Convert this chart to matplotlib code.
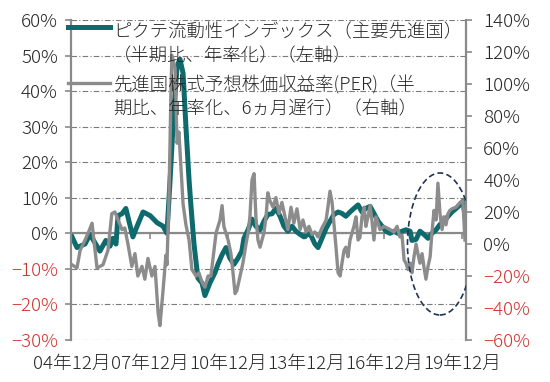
import matplotlib
matplotlib.use('Agg')
import matplotlib.pyplot as plt
import numpy as np
from matplotlib.lines import Line2D
from matplotlib.patches import Ellipse

plt.rcParams['font.family'] = ['Noto Sans CJK JP', 'DejaVu Sans']
plt.rcParams['font.weight'] = 'light'

# liquidity index (left axis, %), x as decimal years
liq_t = [2004.92, 2005.11, 2005.42, 2005.61, 2005.99, 2006.22, 2006.38, 2006.49, 2006.61, 2006.69,
         2006.84, 2006.99, 2007.11, 2007.26, 2007.42, 2007.65, 2007.92, 2008.19, 2008.42, 2008.57,
         2008.69, 2008.84, 2008.96, 2009.07, 2009.19, 2009.30, 2009.42, 2009.49, 2009.61, 2009.76,
         2009.92, 2010.03, 2010.22, 2010.42, 2010.53, 2010.69, 2010.84, 2010.99, 2011.15, 2011.30,
         2011.45, 2011.53, 2011.69, 2011.84, 2011.99, 2012.15, 2012.30, 2012.45, 2012.61, 2012.76,
         2012.92, 2013.07, 2013.22, 2013.38, 2013.53, 2013.69, 2013.84, 2014.07, 2014.26, 2014.38,
         2014.53, 2014.69, 2014.84, 2014.99, 2015.15, 2015.30, 2015.45, 2015.61, 2015.76, 2015.92,
         2016.07, 2016.22, 2016.38, 2016.53, 2016.69, 2016.84, 2016.99, 2017.15, 2017.30, 2017.45,
         2017.61, 2017.76, 2017.92, 2017.99, 2018.15, 2018.30, 2018.45, 2018.61, 2018.76, 2018.92,
         2019.07, 2019.22, 2019.38, 2019.53, 2019.69, 2019.84, 2019.95, 2020.03]
liq_v = [-1, -4, -3, -0.3, -5, -2, -3.6, -1.4, -3, 5,
         5.5, 7, 3.4, -1, 2, 6, 5, 3, 2, 0,
         15, 35, 47, 49, 45, 30, 15, 8, -3, -12.6,
         -14, -17.5, -14, -11, -8.7, -6, -4, -7, -8.7, -7,
         -5, -1.4, 1, 4, 2, 1, 3.4, 5.3, 5.5, 7,
         4.8, 2, 0.6, 2, 0.6, -0.3, -1, 0, -3, -4,
         -1.4, 1.4, 3.4, 5.3, 6, 5.6, 4.8, 6, 7, 8,
         6, 7, 7.6, 5.6, 3.4, 2, 0.6, 0, 0.6, 0,
         0.6, 1, 0.6, -2, -1.7, 0.6, -0.3, -1.4, 0, 1,
         2.5, 3.4, 4.8, 6, 7, 8, 9, 5.3]

# forward PER of developed equities (right axis, %), 6m lag
per_t = [2004.92, 2005.11, 2005.23, 2005.42, 2005.57, 2005.69, 2005.88, 2006.11, 2006.30, 2006.45,
         2006.57, 2006.69, 2006.84, 2006.95, 2007.07, 2007.22, 2007.34, 2007.45, 2007.61, 2007.72,
         2007.84, 2007.99, 2008.11, 2008.23, 2008.30, 2008.42, 2008.53, 2008.57, 2008.65, 2008.73,
         2008.76, 2008.88, 2008.96, 2009.03, 2009.19, 2009.30, 2009.42, 2009.53, 2009.69, 2009.80,
         2009.92, 2010.03, 2010.15, 2010.26, 2010.38, 2010.46, 2010.61, 2010.69, 2010.76, 2010.92,
         2011.03, 2011.11, 2011.19, 2011.26, 2011.38, 2011.49, 2011.61, 2011.69, 2011.76, 2011.84,
         2011.92, 2011.99, 2012.07, 2012.15, 2012.30, 2012.38, 2012.45, 2012.53, 2012.65, 2012.76,
         2012.88, 2012.99, 2013.11, 2013.22, 2013.34, 2013.45, 2013.57, 2013.69, 2013.80, 2013.92,
         2014.03, 2014.15, 2014.26, 2014.38, 2014.53, 2014.69, 2014.76, 2014.84, 2014.92, 2014.99,
         2015.07, 2015.15, 2015.23, 2015.30, 2015.38, 2015.45, 2015.53, 2015.61, 2015.76, 2015.84,
         2015.92, 2015.99, 2016.07, 2016.15, 2016.22, 2016.30, 2016.38, 2016.45, 2016.53, 2016.61,
         2016.69, 2016.76, 2016.92, 2017.15, 2017.30, 2017.42, 2017.53, 2017.61, 2017.69, 2017.76,
         2017.84, 2017.92, 2017.99, 2018.07, 2018.15, 2018.22, 2018.30, 2018.38, 2018.45, 2018.53,
         2018.61, 2018.69, 2018.76, 2018.84, 2018.92, 2018.99, 2019.07, 2019.15, 2019.22, 2019.30,
         2019.38, 2019.45, 2019.53, 2019.69, 2019.84, 2019.95, 2020.03]
per_v = [-13, -15, -4, 2.5, 8, 13, -15, -13, -4, 19,
         20, 15, 9, 10, 0, -14, -6, -20, -14, -22,
         -9, -20, -14, -43, -51, -29, -7, -13, 30, 100,
         118, 110, 63, 70, 25, 12, 2.5, -16, -20, -18,
         -24, -27, -20, -20, -4, 7, 15, 24, 11, 2.5,
         -6, -18, -31, -29, -20, -12, 0, 7, 17, 40,
         44, 17, 2.5, -2, 7, 17, 32, 27, 23, 29,
         19, 26, 17, 9, 23, 13, 22, 9, 15, 7.5,
         11, 6, 7.5, 4.4, 10, 15, 23, 33, 26, 13,
         -2, -18, -20, -12, -4, -2, -8, 2.5, 11, 17,
         2.5, 4, 17, 23, 11, 17, 24, 15, 2.5, 17,
         13, 9, 11, 9, 7.5, 11, 4.4, 5.5, -10, -12,
         -16, -12, -18, -8, 0, -6, -12, -6, -14, -22,
         -14, -8, 7, 21, 15, 38, 19, 9, 17, 12,
         19, 21, 22, 23, 26, 27, 2.5]

tick_years = [2004.92, 2007.92, 2010.92, 2013.92, 2016.92, 2019.92]
tick_labels = ['04年12月', '07年12月', '10年12月', '13年12月', '16年12月', '19年12月']
left_ticks = np.arange(-30, 61, 10)
right_ticks = np.arange(-60, 141, 20)

label_liq = 'ピクテ流動性インデックス（主要先進国）\n（半期比、年率化）（左軸）'
label_per = '先進国株式予想株価収益率(PER)（半\n期比、年率化、6ヵ月遅行）（右軸）'

TEAL = '#0f6a6d'
GRAY = '#8c8c8c'
AXIS = '#8a8a8a'
RED = '#d0322e'
TXT = '#262626'

fig = plt.figure(figsize=(5.5, 3.82), dpi=100)
ax = fig.add_axes([71 / 550, 1 - 340 / 382, (466 - 71) / 550, 320 / 382])
ax2 = ax.twinx()

ax.set_xlim(2004.88, 2020.07)
ax.set_ylim(-30, 60)
ax2.set_ylim(-60, 140)

# grid
for v in left_ticks:
    ax.axhline(v, color='#7a7a7a', lw=0.8, ls=(0, (5, 2, 1, 2)), zorder=0)
ax.axhline(0, color=AXIS, lw=1.6, zorder=1)

ax.plot(liq_t, liq_v, color=TEAL, lw=3.6, solid_joinstyle='round', zorder=2)
ax2.plot(per_t, per_v, color=GRAY, lw=2.4, solid_joinstyle='round', zorder=3)

for a in (ax, ax2):
    for s in a.spines.values():
        s.set_visible(False)
ax.spines['left'].set_visible(True)
ax.spines['left'].set_color(AXIS)
ax.spines['left'].set_linewidth(1.6)
ax2.spines['right'].set_visible(True)
ax2.spines['right'].set_color(AXIS)
ax2.spines['right'].set_linewidth(1.6)

ax.set_yticks(left_ticks)
ax.set_yticklabels(['{}%'.format(v).replace('-', '−') for v in left_ticks])
ax.tick_params(axis='y', direction='out', length=4.5, width=1.2, color=AXIS,
               labelsize=13.5, pad=5)
for lab, v in zip(ax.get_yticklabels(), left_ticks):
    lab.set_color(RED if v < 0 else TXT)

ax2.set_yticks(right_ticks)
ax2.set_yticklabels(['{}%'.format(v).replace('-', '−') for v in right_ticks])
ax2.tick_params(axis='y', direction='out', length=4.5, width=1.2, color=AXIS,
                labelsize=13.5, pad=8)
for lab, v in zip(ax2.get_yticklabels(), right_ticks):
    lab.set_color(RED if v < 0 else TXT)

ax.set_xticks(tick_years)
ax.set_xticklabels(tick_labels, fontsize=13.5, color=TXT)
ax.tick_params(axis='x', length=0, pad=11)

# small tick marks on the zero line
sec = ax.secondary_xaxis(30 / 90)
sec.set_xticks(tick_years)
sec.set_xticklabels([])
sec.spines['bottom'].set_visible(False)
sec.tick_params(axis='x', direction='out', length=4, width=1.2, color=AXIS)

# highlight ellipse
ell = Ellipse((2019.07, 0), width=2.5, height=88.75, fill=False, ec='#1f3358',
              lw=1.2, ls=(0, (3.5, 2)), zorder=5)
ax2.add_patch(ell)

# legend drawn by hand
fig.add_artist(Line2D([68 / 550, 110 / 550], [1 - 27 / 382] * 2, color=TEAL, lw=3.6))
fig.add_artist(Line2D([68 / 550, 110 / 550], [1 - 83 / 382] * 2, color=GRAY, lw=2.4))
fig.text(113 / 550, 1 - 44 / 382, label_liq, fontsize=13.2, color=TXT, va='center',
         ha='left', linespacing=1.4)
fig.text(113 / 550, 1 - 97 / 382, label_per, fontsize=13.2, color=TXT, va='center',
         ha='left', linespacing=1.4)

fig.savefig('out.png', dpi=100)
